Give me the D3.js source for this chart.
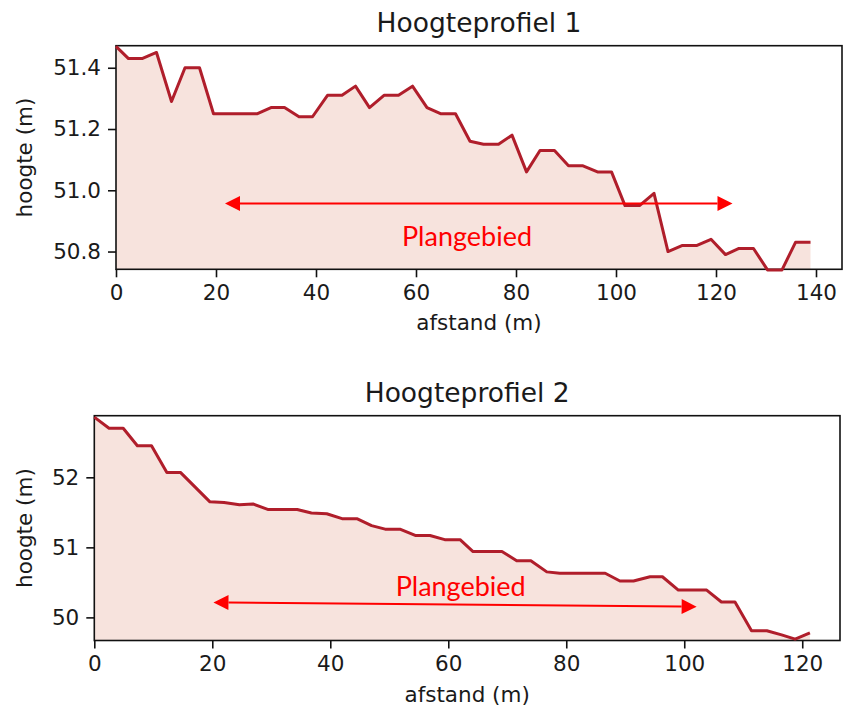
<!DOCTYPE html>
<html><head><meta charset="utf-8">
<script src="https://cdn.jsdelivr.net/npm/d3@7"></script>
<style>body{margin:0;background:#fff}svg{display:block}</style>
</head><body>
<script>
// ---- data: profile 1 ----
const dist1 = [0, 2.5, 5.2, 8.1, 11.1, 13.8, 16.7, 19.5, 22.4, 25.3, 28.3, 31.0, 33.7, 36.6, 39.3, 42.3, 45.2, 47.9, 50.7, 53.6,
  56.5, 59.3, 62.2, 64.9, 67.9, 70.8, 73.5, 76.5, 79.2, 82.1, 84.8, 87.7, 90.5, 93.4, 96.3, 99.1, 101.8, 104.7, 107.6, 110.4,
  113.3, 116.2, 119.0, 121.9, 124.6, 127.5, 130.3, 133.2, 135.9, 138.9];
const height1 = [51.47, 51.43, 51.43, 51.45, 51.29, 51.40, 51.40, 51.25, 51.25, 51.25, 51.25, 51.27, 51.27, 51.24, 51.24, 51.31, 51.31, 51.34, 51.27, 51.31,
  51.31, 51.34, 51.27, 51.25, 51.25, 51.16, 51.15, 51.15, 51.18, 51.06, 51.13, 51.13, 51.08, 51.08, 51.06, 51.06, 50.95, 50.95, 50.99, 50.80,
  50.82, 50.82, 50.84, 50.79, 50.81, 50.81, 50.74, 50.74, 50.83, 50.83];
// ---- data: profile 2 ----
const dist2 = [0, 2.5, 4.9, 7.3, 9.7, 12.3, 14.6, 17.1, 19.6, 22.0, 24.6, 26.9, 29.5, 32.0, 34.4, 36.8, 39.4, 42.0, 44.5, 47.0,
  49.3, 51.8, 54.4, 56.9, 59.4, 62.0, 64.2, 66.8, 69.1, 71.6, 74.0, 76.7, 78.9, 81.2, 83.7, 86.6, 89.1, 91.4, 94.2, 96.3,
  99.0, 101.3, 103.8, 106.3, 108.6, 111.4, 114.0, 116.5, 118.8, 121.3];
const height2 = [52.86, 52.70, 52.70, 52.45, 52.45, 52.07, 52.07, 51.86, 51.65, 51.64, 51.61, 51.62, 51.54, 51.54, 51.54, 51.49, 51.48, 51.41, 51.41, 51.31,
  51.26, 51.26, 51.17, 51.17, 51.11, 51.11, 50.94, 50.94, 50.94, 50.81, 50.81, 50.65, 50.63, 50.63, 50.63, 50.63, 50.52, 50.52, 50.58, 50.58,
  50.39, 50.39, 50.39, 50.22, 50.22, 49.81, 49.81, 49.75, 49.69, 49.78];
// ---- ticks / labels ----
const xTicks1 = [0, 20, 40, 60, 80, 100, 120, 140];
const yTicks1 = [50.8, 51.0, 51.2, 51.4];
const xTicks2 = [0, 20, 40, 60, 80, 100, 120];
const yTicks2 = [50, 51, 52];
const titles = ["Hoogteprofiel 1", "Hoogteprofiel 2"];
const xLabel = "afstand (m)";
const yLabel = "hoogte (m)";
const areaLabel = "Plangebied";
// annotation arrows [x1, y1, x2, y2] and label anchor [x, y] in data units
const arrow1 = [21.8, 50.957, 123.3, 50.957];
const arrow2 = [20.2, 50.214, 102.1, 50.153];
const labelAt1 = [70.2, 50.819];
const labelAt2 = [62.1, 50.30];

const W = 843, H = 715;
const svg = d3.select("body").append("svg").attr("width", W).attr("height", H);
const defs = svg.append("defs");

const LINE = "#b01e2b", FILL = "#f7e3dd", ANN = "#ff0000", TXT = "#1a1a1a";
const FONT = "DejaVu Sans";

function panel(cfg) {
  const x = d3.scaleLinear().domain(cfg.xDom).range([cfg.left, cfg.right]);
  const y = d3.scaleLinear().domain(cfg.yDom).range([cfg.bottom, cfg.top]);
  const g = svg.append("g");
  const clipId = "clip" + cfg.id;
  defs.append("clipPath").attr("id", clipId).append("rect")
    .attr("x", cfg.left).attr("y", cfg.top).attr("width", cfg.right - cfg.left).attr("height", cfg.bottom - cfg.top);
  const data = cfg.xs.map((d, i) => [d, cfg.ys[i]]);
  g.append("path").datum(data).attr("clip-path", `url(#${clipId})`)
    .attr("d", d3.area().x(d => x(d[0])).y0(y(cfg.yDom[0]) + 2).y1(d => y(d[1])))
    .attr("fill", FILL);

  // frame
  g.append("rect").attr("x", cfg.left).attr("y", cfg.top)
    .attr("width", cfg.right - cfg.left).attr("height", cfg.bottom - cfg.top)
    .attr("fill", "none").attr("stroke", "#111").attr("stroke-width", 1.6);

  g.append("path").datum(data)
    .attr("d", d3.line().x(d => x(d[0])).y(d => y(d[1])))
    .attr("fill", "none").attr("stroke", LINE).attr("stroke-width", 3)
    .attr("stroke-linejoin", "round").attr("stroke-linecap", "butt");

  // axes
  const xa = g.append("g").attr("transform", `translate(0,${cfg.bottom})`)
    .call(d3.axisBottom(x).tickValues(cfg.xTicks).tickSize(8).tickPadding(7).tickFormat(d3.format("d")));
  const ya = g.append("g").attr("transform", `translate(${cfg.left},0)`)
    .call(d3.axisLeft(y).tickValues(cfg.yTicks).tickSize(8).tickPadding(7).tickFormat(d3.format(cfg.yFmt)));
  [xa, ya].forEach(a => {
    a.select(".domain").remove();
    a.selectAll("line").attr("stroke", "#111").attr("stroke-width", 1.6);
    a.selectAll("text").attr("font-family", FONT).attr("font-size", 21.5).attr("fill", TXT);
  });

  // title & labels
  g.append("text").attr("x", (cfg.left + cfg.right) / 2).attr("y", cfg.top - 14)
    .attr("text-anchor", "middle").attr("font-family", FONT).attr("font-size", 26.5).attr("fill", TXT)
    .text(cfg.title);
  g.append("text").attr("x", (cfg.left + cfg.right) / 2).attr("y", cfg.bottom + 61)
    .attr("text-anchor", "middle").attr("font-family", FONT).attr("font-size", 21.5).attr("fill", TXT)
    .text(xLabel);
  g.append("text").attr("transform", `translate(32,${(cfg.top + cfg.bottom) / 2}) rotate(-90)`)
    .attr("text-anchor", "middle").attr("font-family", FONT).attr("font-size", 21.5).attr("fill", TXT)
    .text(yLabel);

  // arrow annotation
  const a = cfg.arrow;
  const x1 = x(a[0]), y1 = y(a[1]), x2 = x(a[2]), y2 = y(a[3]);
  const ang = Math.atan2(y2 - y1, x2 - x1);
  const L = 15, Hw = 7.5;
  const ux = Math.cos(ang), uy = Math.sin(ang);
  g.append("line").attr("x1", x1 + ux * L).attr("y1", y1 + uy * L).attr("x2", x2 - ux * L).attr("y2", y2 - uy * L)
    .attr("stroke", ANN).attr("stroke-width", 2);
  function head(tx, ty, dx, dy) {
    const bx = tx - dx * L, by = ty - dy * L;
    const pts = [[tx, ty], [bx - dy * Hw, by + dx * Hw], [bx + dy * Hw, by - dx * Hw]];
    g.append("path").attr("d", "M" + pts.map(p => p.join(",")).join("L") + "Z").attr("fill", ANN);
  }
  head(x2, y2, ux, uy);
  head(x1, y1, -ux, -uy);
  g.append("text").attr("x", x(cfg.labelAt[0])).attr("y", y(cfg.labelAt[1]))
    .attr("text-anchor", "middle").attr("font-family", "Lato").attr("font-size", 27).attr("fill", ANN)
    .text(areaLabel);
}

panel({id: 1, xs: dist1, ys: height1, xDom: [0, 145.2], yDom: [50.742, 51.472],
  left: 116, right: 842, top: 45.7, bottom: 269.3, xTicks: xTicks1, yTicks: yTicks1, yFmt: ".1f",
  title: titles[0], arrow: arrow1, labelAt: labelAt1});
panel({id: 2, xs: dist2, ys: height2, xDom: [0, 126.4], yDom: [49.67, 52.88],
  left: 94.3, right: 840, top: 415.7, bottom: 640.5, xTicks: xTicks2, yTicks: yTicks2, yFmt: "d",
  title: titles[1], arrow: arrow2, labelAt: labelAt2});
</script>
</body></html>
